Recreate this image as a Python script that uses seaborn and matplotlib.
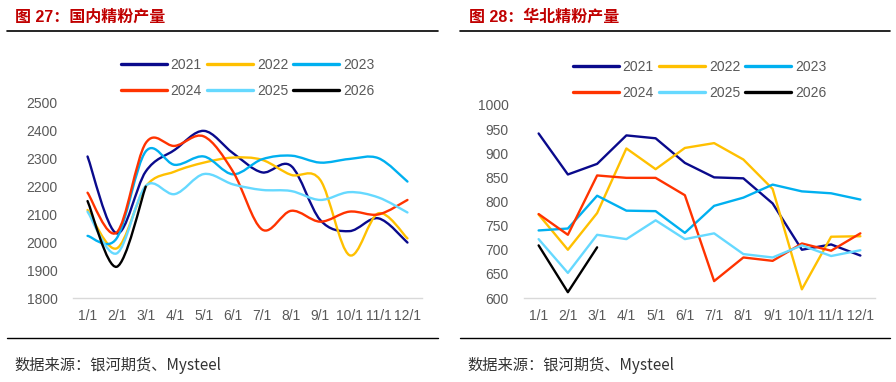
import numpy as np
import pandas as pd
import matplotlib
matplotlib.use("Agg")
import matplotlib.pyplot as plt
import seaborn as sns
from matplotlib.path import Path
from matplotlib.patches import PathPatch
from matplotlib.lines import Line2D

sns.set_theme(style="white")
plt.rcParams['font.family'] = ['Liberation Sans', 'Noto Sans CJK SC', 'DejaVu Sans']

# Données
mois = ["1/1", "2/1", "3/1", "4/1", "5/1", "6/1", "7/1", "8/1", "9/1", "10/1", "11/1", "12/1"]
annees = ["2021", "2022", "2023", "2024", "2025", "2026"]
couleurs = ["#0A0A8C", "#FFC000", "#00B0F0", "#FF3300", "#66D9FF", "#000000"]

# Figure 27 : production nationale (courbes lissées)
nat_2021 = [2308, 2032, 2254, 2332, 2400, 2320, 2251, 2274, 2080, 2040, 2086, 1999]
nat_2022 = [2116, 1978, 2200, 2254, 2286, 2304, 2296, 2242, 2224, 1954, 2104, 2014]
nat_2023 = [2023, 2014, 2326, 2278, 2308, 2244, 2298, 2311, 2286, 2299, 2302, 2218]
nat_2024 = [2178, 2035, 2356, 2346, 2380, 2254, 2046, 2113, 2074, 2110, 2100, 2152]
nat_2025 = [2110, 1960, 2202, 2173, 2245, 2208, 2188, 2184, 2152, 2180, 2161, 2107]
nat_2026 = [2148, 1912, 2200]

# Figure 28 : production Chine du Nord
nord_2021 = [941, 856, 878, 937, 931, 880, 850, 848, 796, 700, 711, 688]
nord_2022 = [773, 700, 776, 910, 867, 911, 921, 887, 826, 618, 727, 728]
nord_2023 = [740, 744, 812, 781, 780, 735, 791, 808, 835, 821, 817, 804]
nord_2024 = [774, 731, 854, 849, 849, 813, 635, 684, 677, 713, 698, 734]
nord_2025 = [722, 652, 731, 722, 761, 722, 734, 691, 684, 709, 687, 699]
nord_2026 = [709, 612, 705]

nat = [nat_2021, nat_2022, nat_2023, nat_2024, nat_2025, nat_2026]
nord = [nord_2021, nord_2022, nord_2023, nord_2024, nord_2025, nord_2026]

W, H = 896, 382
fig = plt.figure(figsize=(W / 100, H / 100), dpi=100)
fig.patch.set_facecolor("white")


def px_axes(x0, y0, x1, y1):
    # position en pixels (origine en haut à gauche)
    return fig.add_axes([x0 / W, 1 - y1 / H, (x1 - x0) / W, (y1 - y0) / H])


def courbe_lisse(ax, y, couleur):
    # courbe de Bézier passant par les points (lissage type Excel)
    x = np.arange(len(y), dtype=float)
    y = np.array(y, dtype=float)
    pts = np.column_stack([x, y])
    verts = [pts[0]]
    codes = [Path.MOVETO]
    n = len(pts)
    for i in range(n - 1):
        p0 = pts[i - 1] if i > 0 else pts[i]
        p1 = pts[i]
        p2 = pts[i + 1]
        p3 = pts[i + 2] if i + 2 < n else pts[i + 1]
        c1 = p1 + (p2 - p0) / 6.0
        c2 = p2 - (p3 - p1) / 6.0
        verts += [c1, c2, p2]
        codes += [Path.CURVE4] * 3
    patch = PathPatch(Path(verts, codes), facecolor="none", edgecolor=couleur,
                      lw=1.7, capstyle="round", joinstyle="round")
    ax.add_patch(patch)


def habillage(ax, ymin, ymax, pas):
    ax.set_xlim(-0.5, 11.5)
    ax.set_ylim(ymin, ymax)
    ax.set_yticks(np.arange(ymin, ymax + 1, pas))
    ax.set_xticks(range(12))
    ax.set_xticklabels(mois)
    ax.set_xticks(np.arange(-0.5, 12, 1), minor=True)
    ax.tick_params(axis="x", which="major", length=0, pad=8, labelsize=10, colors="#595959")
    ax.tick_params(axis="x", which="minor", length=4, color="#d9d9d9", width=1, direction="out")
    ax.tick_params(axis="y", length=0, pad=11, labelsize=10, colors="#595959")
    for s in ["top", "right", "left"]:
        ax.spines[s].set_visible(False)
    ax.spines["bottom"].set_color("#d9d9d9")
    ax.spines["bottom"].set_linewidth(1)
    ax.set_xlabel("")
    ax.set_ylabel("")
    ax.grid(False)


def legende(ax):
    # ordre ligne par ligne : 2021 2022 2023 / 2024 2025 2026
    ordre = [0, 3, 1, 4, 2, 5]
    handles = [Line2D([0], [0], color=couleurs[i], lw=2.4) for i in ordre]
    labels = [annees[i] for i in ordre]
    ax.legend(handles, labels, ncol=3, loc="lower center", bbox_to_anchor=(0.5, 0.962),
              frameon=False, fontsize=10, handlelength=3.3, handletextpad=0.3,
              columnspacing=0.35, labelspacing=0.85, labelcolor="#595959")


# --- Figure 27 ---
ax1 = px_axes(73, 103, 422, 298)
for serie, c in zip(nat, couleurs):
    courbe_lisse(ax1, serie, c)
habillage(ax1, 1800, 2500, 100)
legende(ax1)

# --- Figure 28 ---
ax2 = px_axes(524, 105, 875, 298)
for an, serie, c in zip(annees, nord, couleurs):
    df = pd.DataFrame({"mois": np.arange(len(serie)), "val": serie})
    sns.lineplot(data=df, x="mois", y="val", color=c, lw=1.7, ax=ax2, legend=False)
habillage(ax2, 600, 1000, 50)
legende(ax2)

# Titres, filets et sources
titre_kw = dict(fontsize=11.5, fontweight="bold", color="#C00000", va="center", ha="left",
                family=['Liberation Sans', 'Noto Sans CJK SC'])
fig.text(15 / W, 1 - 17 / H, "图 27：国内精粉产量", **titre_kw)
fig.text(469 / W, 1 - 17 / H, "图 28：华北精粉产量", **titre_kw)

for (a, b) in [(7, 438), (460, 890)]:
    fig.add_artist(Line2D([a / W, b / W], [1 - 30.5 / H, 1 - 30.5 / H], color="black", lw=1.2))
    fig.add_artist(Line2D([a / W, b / W], [1 - 338 / H, 1 - 338 / H], color="black", lw=1.0))

src_kw = dict(fontsize=11, color="#333333", va="center", ha="left",
              family=['Noto Sans CJK SC', 'Liberation Serif'])
fig.text(14 / W, 1 - 365 / H, "数据来源：银河期货、Mysteel", **src_kw)
fig.text(467 / W, 1 - 365 / H, "数据来源：银河期货、Mysteel", **src_kw)

fig.savefig("out.png", dpi=100, facecolor="white")
